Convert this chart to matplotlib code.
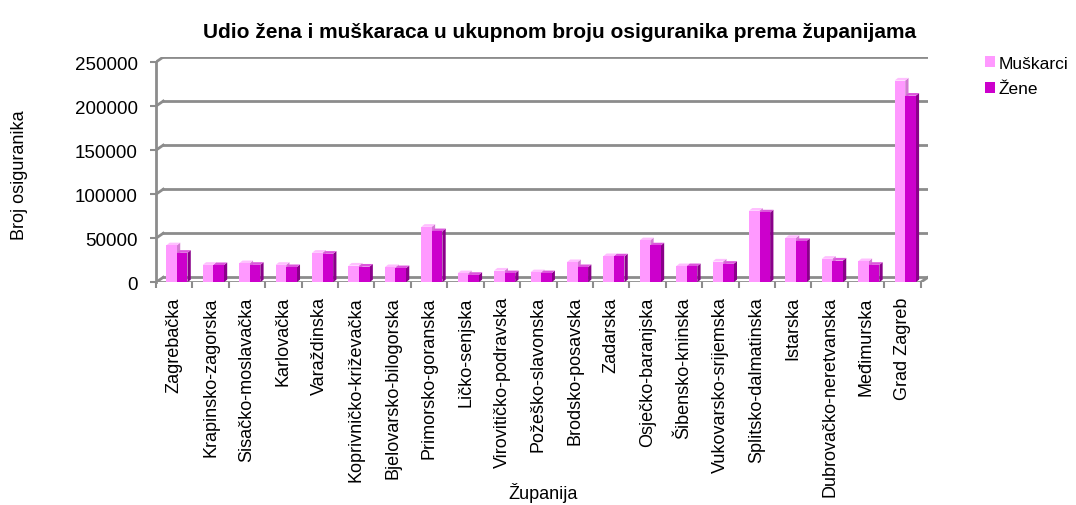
import matplotlib.pyplot as plt
from matplotlib.patches import Polygon, Patch
import numpy as np

plt.rcParams['font.family'] = ['Liberation Sans', 'DejaVu Sans']

counties = ["Zagrebačka", "Krapinsko-zagorska", "Sisačko-moslavačka", "Karlovačka",
            "Varaždinska", "Koprivničko-križevačka", "Bjelovarsko-bilogorska",
            "Primorsko-goranska", "Ličko-senjska", "Virovitičko-podravska",
            "Požeško-slavonska", "Brodsko-posavska", "Zadarska", "Osječko-baranjska",
            "Šibensko-kninska", "Vukovarsko-srijemska", "Splitsko-dalmatinska",
            "Istarska", "Dubrovačko-neretvanska", "Međimurska", "Grad Zagreb"]
muskarci = [42000, 19800, 21700, 19800, 33500, 19000, 17200, 63000, 10300, 13300,
            11400, 22900, 29700, 47700, 18300, 23600, 81300, 50400, 26700, 24000, 229000]
zene = [33500, 19500, 19800, 17200, 32400, 17800, 16000, 58000, 8400, 10300,
        10300, 17200, 29400, 41900, 18300, 21000, 79300, 46900, 24700, 19800, 211800]
yticks = [0, 50000, 100000, 150000, 200000, 250000]

c_m = "#ff99ff"
c_m_side = "#d27ad2"
c_m_top = "#ffbfff"
c_z = "#cc00cc"
c_z_side = "#8a008a"
c_z_top = "#dd55dd"
grid_c = "#8c8c8c"

dx, dy = 0.2, 5700     # wall depth offset in data units
bdx, bdy = 0.09, 3000  # bar depth offset
width = 0.29

fig = plt.figure(figsize=(10.76, 5.06), dpi=100)
ax = fig.add_axes([156 / 1076, 1 - 283.3 / 506, (928 - 156) / 1076, (283.3 - 58) / 506])
n = len(counties)
x = np.arange(n)
ax.set_xlim(-0.5, n - 0.5 + dx)
ax.set_ylim(0, 250000 + dy)

# back wall gridlines, left wall diagonals and floor
for yv in yticks:
    ax.plot([-0.5 + dx, n - 0.5 + dx], [yv + dy, yv + dy], color=grid_c, lw=2, zorder=1)
    ax.plot([-0.5, -0.5 + dx], [yv, yv + dy], color=grid_c, lw=2, zorder=1)
ax.plot([n - 0.5, n - 0.5 + dx], [0, dy], color=grid_c, lw=2, zorder=1)
ax.plot([-0.5, n - 0.5], [0, 0], color=grid_c, lw=2, zorder=1)


def bar3d(xc, h, front, side, top):
    x0, x1 = xc - width / 2, xc + width / 2
    ax.bar(xc, h, width=width, color=front, edgecolor="none", zorder=3)
    ax.add_patch(Polygon([(x1, 0), (x1 + bdx, bdy), (x1 + bdx, h + bdy), (x1, h)],
                         closed=True, facecolor=side, edgecolor="none", zorder=2))
    ax.add_patch(Polygon([(x0, h), (x1, h), (x1 + bdx, h + bdy), (x0 + bdx, h + bdy)],
                         closed=True, facecolor=top, edgecolor="none", zorder=2))


for i in range(n):
    bar3d(x[i] - 0.07, muskarci[i], c_m, c_m_side, c_m_top)
for i in range(n):
    bar3d(x[i] + 0.22, zene[i], c_z, c_z_side, c_z_top)

for s in ["top", "right", "bottom"]:
    ax.spines[s].set_visible(False)
ax.spines["left"].set_color(grid_c)
ax.spines["left"].set_linewidth(2)
ax.spines["left"].set_bounds(0, 250000)
ax.set_yticks(yticks)
ax.set_yticklabels([str(v) for v in yticks], fontsize=13.5)
ax.tick_params(axis="y", length=4, color=grid_c, width=1.5, pad=9)

ax.set_xticks(x)
ax.set_xticklabels(counties, rotation=90, fontsize=13)
ax.set_xticks(np.arange(-0.5, n, 1.0), minor=True)
ax.tick_params(axis="x", which="major", length=0, pad=10)
ax.tick_params(axis="x", which="minor", length=4, color=grid_c, width=1.5)

fig.text(560 / 1076, 1 - 32 / 506, "Udio žena i muškaraca u ukupnom broju osiguranika prema županijama",
         ha="center", va="center", fontsize=15, fontweight="bold")
fig.text(20 / 1076, 1 - 175 / 506, "Broj osiguranika", rotation=90, ha="center", va="center", fontsize=13)
fig.text(543 / 1076, 1 - 493 / 506, "Županija", ha="center", va="center", fontsize=13)

handles = [Patch(facecolor=c_m), Patch(facecolor=c_z)]
fig.legend(handles, ["Muškarci", "Žene"], loc="upper left", bbox_to_anchor=(978 / 1076, 1 - 50 / 506),
           frameon=False, fontsize=12.5, handlelength=0.6, handleheight=0.6, handletextpad=0.2,
           labelspacing=0.6, borderaxespad=0)

fig.savefig("out.png", dpi=100)
